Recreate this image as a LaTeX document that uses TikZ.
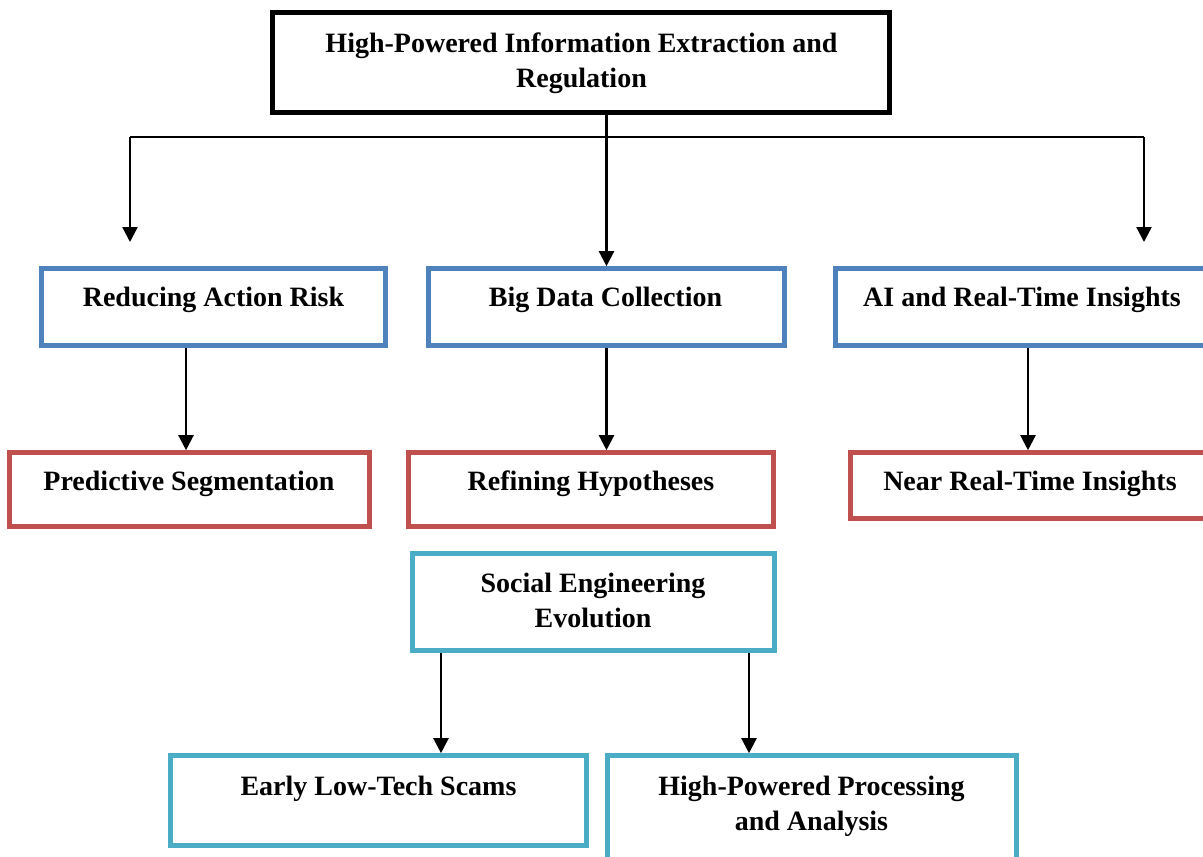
\documentclass[tikz,border=0pt]{standalone}
\usepackage{fontspec}
\setmainfont{Liberation Serif}
\usetikzlibrary{arrows.meta}
\definecolor{boxblue}{HTML}{4F81BD}
\definecolor{boxred}{HTML}{C0504D}
\definecolor{boxcyan}{HTML}{4BACC6}
\tikzset{
  frame/.style={draw, rectangle, inner sep=0pt, line width=4.6pt},
  headbox/.style={frame, draw=black, line width=5pt},
  bluebox/.style={frame, draw=boxblue},
  redbox/.style={frame, draw=boxred},
  cyanbox/.style={frame, draw=boxcyan},
  lbl/.style={font=\fontsize{28}{35}\selectfont\bfseries, align=center, inner sep=0pt, anchor=base},
  link/.style={draw=black, line width=2.3pt, -{Triangle[width=15pt,length=15pt]}},
  bus/.style={draw=black, line width=1.8pt},
}
\begin{document}
\begin{tikzpicture}[x=1pt,y=-1pt]
  \clip (0,0) rectangle (1203,857);
  \fill[white] (0,0) rectangle (1203,857);

  % header (two-line labels are placed by the baseline of their last line)
  \node[headbox, minimum width=617pt, minimum height=100pt] (top) at (581,62.5) {};
  \node[lbl] (ttop) at (581.5,87) {High-Powered Information Extraction and\\Regulation};

  % first row
  \node[bluebox, minimum width=344pt, minimum height=77pt] (A) at (213.5,307) {};
  \node[bluebox, minimum width=356pt, minimum height=77pt] (B) at (606.5,307) {};
  \node[bluebox, minimum width=379.5pt, minimum height=77pt] (C) at (1025.25,307) {};
  \node[lbl] (tA) at (213.5,306) {Reducing Action Risk};
  \node[lbl] (tB) at (605.5,306) {Big Data Collection};
  \node[lbl] (tC) at (1022,306) {AI and Real-Time Insights};

  % second row
  \node[redbox, minimum width=360pt, minimum height=74pt] (D) at (189.5,489.5) {};
  \node[redbox, minimum width=365pt, minimum height=74pt] (E) at (591,489.5) {};
  \node[redbox, minimum width=364.5pt, minimum height=66pt] (F) at (1032.75,485.5) {};
  \node[lbl] (tD) at (189,490) {Predictive Segmentation};
  \node[lbl] (tE) at (591,490) {Refining Hypotheses};
  \node[lbl] (tF) at (1030,490) {Near Real-Time Insights};

  % social engineering branch
  \node[cyanbox, minimum width=362pt, minimum height=97pt] (G) at (593.5,602) {};
  \node[cyanbox, minimum width=416pt, minimum height=90pt] (H) at (378.5,800.5) {};
  \node[cyanbox, minimum width=409pt, minimum height=124.5pt] (I) at (812,817.75) {};
  \node[lbl] (tG) at (593,627) {Social Engineering\\Evolution};
  \node[lbl] (tH) at (378.5,795) {Early Low-Tech Scams};
  \node[lbl] (tI) at (811.5,830) {High-Powered Processing\\and Analysis};

  % distribution bar under the header
  \coordinate (busL) at (130,137);
  \coordinate (busR) at (1144,137);
  \coordinate (dropL) at (130,242);
  \coordinate (dropR) at (1144,242);
  \draw[bus] (busL) -- (busR);
  \draw[link] (busL) -- (dropL);
  \draw[link] (busR) -- (dropR);
  \draw[link] (top.south -| B.north) -- (B.north);

  % row connectors
  \draw[link] ([xshift=-27.5pt]A.south) -- ([xshift=-3.5pt]D.north);
  \draw[link] (B.south) -- ([xshift=15.5pt]E.north);
  \draw[link] ([xshift=2.75pt]C.south) -- ([xshift=-4.75pt]F.north);
  \draw[link] ([xshift=-152.5pt]G.south) -- ([xshift=62.5pt]H.north);
  \draw[link] ([xshift=155.5pt]G.south) -- ([xshift=-63pt]I.north);
\end{tikzpicture}
\end{document}
